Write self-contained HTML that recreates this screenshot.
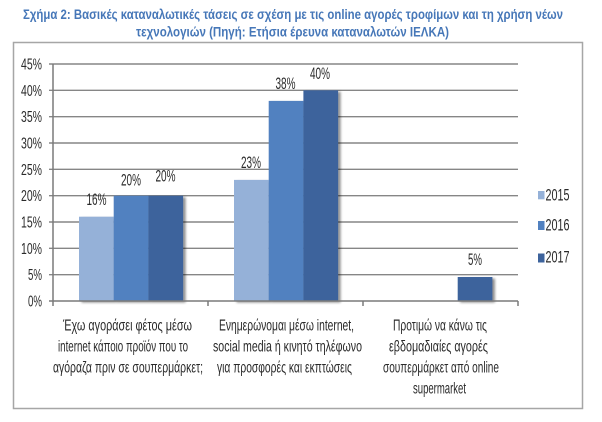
<!DOCTYPE html>
<html>
<head>
<meta charset="utf-8">
<style>
html,body{margin:0;padding:0;background:#fff;}
svg{display:block;}
text{font-family:"Liberation Sans Narrow","Liberation Sans","DejaVu Sans Condensed",sans-serif;}
</style>
</head>
<body>
<svg width="602" height="422" viewBox="0 0 602 422" xmlns="http://www.w3.org/2000/svg">
<defs>
<filter id="sh" x="-20%" y="-10%" width="150%" height="130%">
<feGaussianBlur in="SourceAlpha" stdDeviation="1.3"/>
<feOffset dx="2.5" dy="1.5" result="b"/>
<feComponentTransfer><feFuncA type="linear" slope="0.45"/></feComponentTransfer>
<feMerge><feMergeNode/><feMergeNode in="SourceGraphic"/></feMerge>
</filter>
</defs>
<rect width="602" height="422" fill="#fff"/>

<!-- Title -->
<g fill="#4677b8" font-weight="bold" font-size="14">
<text x="23" y="19" textLength="540" lengthAdjust="spacingAndGlyphs">Σχήμα 2: Βασικές καταναλωτικές τάσεις σε σχέση με τις online αγορές τροφίμων και τη χρήση νέων</text>
<text x="136" y="36.5" textLength="313" lengthAdjust="spacingAndGlyphs">τεχνολογιών (Πηγή: Ετήσια έρευνα καταναλωτών ΙΕΛΚΑ)</text>
</g>

<!-- Border -->
<rect x="13.5" y="42.5" width="569" height="366" fill="none" stroke="#a6a6a6" stroke-width="1.5"/>

<!-- Gridlines -->
<g stroke="#868686" stroke-width="1.4">
<line x1="49" y1="64" x2="518" y2="64"/>
<line x1="49" y1="90.3" x2="518" y2="90.3"/>
<line x1="49" y1="116.7" x2="518" y2="116.7"/>
<line x1="49" y1="143" x2="518" y2="143"/>
<line x1="49" y1="169.3" x2="518" y2="169.3"/>
<line x1="49" y1="195.7" x2="518" y2="195.7"/>
<line x1="49" y1="222" x2="518" y2="222"/>
<line x1="49" y1="248.3" x2="518" y2="248.3"/>
<line x1="49" y1="274.7" x2="518" y2="274.7"/>
</g>

<!-- Bars -->
<g filter="url(#sh)">
<rect x="79" y="216.7" width="34.7" height="84.3" fill="#95b1d8"/>
<rect x="113.7" y="195.7" width="34.7" height="105.3" fill="#5181c0"/>
<rect x="148.4" y="195.7" width="34.7" height="105.3" fill="#3d639c"/>
</g>
<g filter="url(#sh)">
<rect x="234" y="179.9" width="34.7" height="121.1" fill="#95b1d8"/>
<rect x="268.7" y="100.9" width="34.7" height="200.1" fill="#5181c0"/>
<rect x="303.4" y="90.3" width="34.7" height="210.7" fill="#3d639c"/>
</g>
<g filter="url(#sh)">
<rect x="457.7" y="277" width="34.7" height="24" fill="#3d639c"/>
</g>

<!-- Axes -->
<g stroke="#7a7a7a" stroke-width="1.5">
<line x1="53" y1="64" x2="53" y2="301"/>
<line x1="49" y1="301" x2="518" y2="301"/>
<line x1="53" y1="301" x2="53" y2="306"/>
<line x1="208" y1="301" x2="208" y2="306"/>
<line x1="363" y1="301" x2="363" y2="306"/>
<line x1="518" y1="301" x2="518" y2="306"/>
</g>

<!-- Y tick labels -->
<g fill="#2a2a2a" font-size="16" text-anchor="end">
<text x="42" y="69.5" textLength="21" lengthAdjust="spacingAndGlyphs">45%</text>
<text x="42" y="95.8" textLength="21" lengthAdjust="spacingAndGlyphs">40%</text>
<text x="42" y="122.2" textLength="21" lengthAdjust="spacingAndGlyphs">35%</text>
<text x="42" y="148.5" textLength="21" lengthAdjust="spacingAndGlyphs">30%</text>
<text x="42" y="174.8" textLength="21" lengthAdjust="spacingAndGlyphs">25%</text>
<text x="42" y="201.2" textLength="21" lengthAdjust="spacingAndGlyphs">20%</text>
<text x="42" y="227.5" textLength="21" lengthAdjust="spacingAndGlyphs">15%</text>
<text x="42" y="253.8" textLength="21" lengthAdjust="spacingAndGlyphs">10%</text>
<text x="42" y="280.2" textLength="14" lengthAdjust="spacingAndGlyphs">5%</text>
<text x="42" y="306.5" textLength="14" lengthAdjust="spacingAndGlyphs">0%</text>
</g>

<!-- Data labels -->
<g fill="#2a2a2a" font-size="17" text-anchor="middle">
<text x="96.5" y="205" textLength="20" lengthAdjust="spacingAndGlyphs">16%</text>
<text x="131" y="185.5" textLength="20" lengthAdjust="spacingAndGlyphs">20%</text>
<text x="165.5" y="181.5" textLength="20" lengthAdjust="spacingAndGlyphs">20%</text>
<text x="251" y="168" textLength="20" lengthAdjust="spacingAndGlyphs">23%</text>
<text x="285.5" y="89" textLength="20" lengthAdjust="spacingAndGlyphs">38%</text>
<text x="320" y="79" textLength="20" lengthAdjust="spacingAndGlyphs">40%</text>
<text x="475" y="265" textLength="14" lengthAdjust="spacingAndGlyphs">5%</text>
</g>

<!-- Category labels -->
<g fill="#2a2a2a" font-size="16">
<text x="63" y="330.5" textLength="129" lengthAdjust="spacingAndGlyphs">Έχω αγοράσει φέτος μέσω</text>
<text x="58" y="351.5" textLength="130" lengthAdjust="spacingAndGlyphs">internet κάποιο προϊόν που το</text>
<text x="53" y="372.5" textLength="150" lengthAdjust="spacingAndGlyphs">αγόραζα πριν σε σουπερμάρκετ;</text>

<text x="219" y="330.5" textLength="135" lengthAdjust="spacingAndGlyphs">Ενημερώνομαι μέσω internet,</text>
<text x="213" y="351.5" textLength="149" lengthAdjust="spacingAndGlyphs">social media ή κινητό τηλέφωνο</text>
<text x="217" y="372.5" textLength="135" lengthAdjust="spacingAndGlyphs">για προσφορές και εκπτώσεις</text>

<text x="393" y="330.5" textLength="94" lengthAdjust="spacingAndGlyphs">Προτιμώ να κάνω τις</text>
<text x="389" y="351.5" textLength="99" lengthAdjust="spacingAndGlyphs">εβδομαδιαίες αγορές</text>
<text x="383" y="372.5" textLength="116" lengthAdjust="spacingAndGlyphs">σουπερμάρκετ από online</text>
<text x="413" y="393.5" textLength="53" lengthAdjust="spacingAndGlyphs">supermarket</text>
</g>

<!-- Legend -->
<rect x="538" y="191" width="6.5" height="8.3" fill="#95b1d8"/>
<rect x="538" y="221" width="6.5" height="9" fill="#5181c0"/>
<rect x="538" y="253.5" width="6.5" height="9" fill="#3d639c"/>
<g fill="#2a2a2a" font-size="17">
<text x="545.5" y="200.5" textLength="24" lengthAdjust="spacingAndGlyphs">2015</text>
<text x="545.5" y="230.5" textLength="24" lengthAdjust="spacingAndGlyphs">2016</text>
<text x="545.5" y="262.5" textLength="24" lengthAdjust="spacingAndGlyphs">2017</text>
</g>
</svg>
</body>
</html>
